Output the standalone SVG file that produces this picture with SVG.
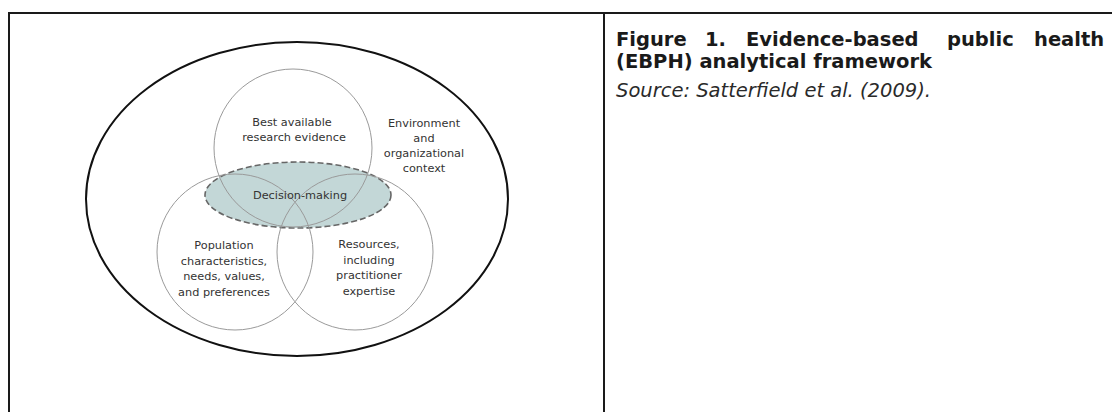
<svg xmlns="http://www.w3.org/2000/svg" width="1112" height="412" viewBox="0 0 1112 412">
<style>
.frame{fill:none;stroke:#1a1a1a;stroke-width:2}
.outer{fill:none;stroke:#111;stroke-width:2}
.circ{fill:none;stroke:#9a9a9a;stroke-width:1}
.dm{fill:#c3d7d7;stroke:#666;stroke-width:1.6;stroke-dasharray:6 3}
.lbl{font-family:"DejaVu Sans",Verdana,sans-serif;font-size:11.3px;fill:#333;text-anchor:middle}
.title{font-family:"DejaVu Sans",Verdana,sans-serif;font-size:19.5px;font-weight:bold;fill:#1a1a1a}
.src{font-family:"DejaVu Sans",Verdana,sans-serif;font-size:19.5px;font-style:italic;fill:#2a2a2a}
</style>
<rect width="1112" height="412" fill="#fff"/>
<g id="frame">
<path class="frame" d="M9,420 V13 H1112"/>
<line class="frame" x1="604" y1="13" x2="604" y2="420"/>
</g>
<g id="environment">
<ellipse class="outer" cx="297" cy="199" rx="211" ry="157"/>
<text class="lbl" x="424" y="127">Environment</text>
<text class="lbl" x="424" y="142">and</text>
<text class="lbl" x="424" y="157">organizational</text>
<text class="lbl" x="424" y="172">context</text>
</g>
<g id="decision-making">
<ellipse class="dm" cx="298" cy="195" rx="93" ry="33"/>
</g>
<g id="research">
<circle class="circ" cx="293" cy="148" r="79"/>
<text class="lbl" x="292" y="126">Best available</text>
<text class="lbl" x="294" y="141">research evidence</text>
</g>
<g id="population">
<circle class="circ" cx="235" cy="252" r="78"/>
<text class="lbl" x="224" y="249">Population</text>
<text class="lbl" x="224" y="264.5">characteristics,</text>
<text class="lbl" x="224" y="280">needs, values,</text>
<text class="lbl" x="224" y="295.5">and preferences</text>
</g>
<g id="resources">
<circle class="circ" cx="355" cy="252" r="78"/>
<text class="lbl" x="369" y="248">Resources,</text>
<text class="lbl" x="369" y="263.5">including</text>
<text class="lbl" x="369" y="279">practitioner</text>
<text class="lbl" x="369" y="294.5">expertise</text>
</g>
<g id="decision-label">
<text class="lbl" x="300" y="199">Decision-making</text>
</g>
<g id="caption">
<text class="title" y="46"><tspan x="616">Figure</tspan><tspan x="705">1.</tspan><tspan x="746">Evidence-based</tspan><tspan x="947">public</tspan><tspan x="1034">health</tspan></text>
<text class="title" x="616" y="68">(EBPH) analytical framework</text>
<text class="src" x="616" y="97">Source: Satterfield et al. (2009).</text>
</g>
</svg>
